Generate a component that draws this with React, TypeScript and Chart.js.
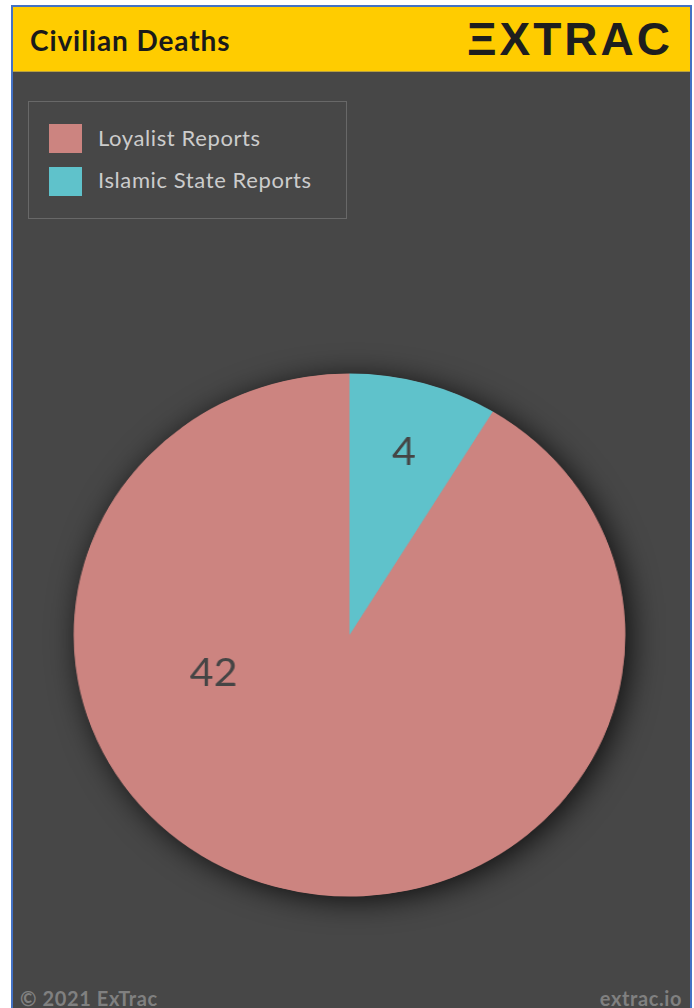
import React, { useEffect, useRef } from "react";
import { Chart, registerables } from "chart.js";

Chart.register(...registerables);

const titleText = "Civilian Deaths";
const logoText = "ΞXTRAC";
const footerLeft = "© 2021 ExTrac";
const footerRight = "extrac.io";

const categories = ["Loyalist Reports", "Islamic State Reports"];
const deaths = [42, 4];
const sliceColors = ["#cc8480", "#5fc2cb"];

// label placement within each slice (fraction of sweep, fraction of radius)
const labelPlacement = [
  { frac: 0.678, r: 0.512 },
  { frac: 0.5, r: 0.73 },
];

const FONT = "Lato, 'Open Sans', sans-serif";

const shadowPlugin = {
  id: "pieShadow",
  beforeDatasetsDraw(chart: any) {
    const meta = chart.getDatasetMeta(0);
    const arc = meta.data[0];
    if (!arc) return;
    const { x, y, outerRadius } = arc.getProps(["x", "y", "outerRadius"], true);
    const ctx = chart.ctx;
    ctx.save();
    ctx.shadowColor = "rgba(0,0,0,0.8)";
    ctx.shadowBlur = 30;
    ctx.shadowOffsetX = 5;
    ctx.shadowOffsetY = 4;
    ctx.beginPath();
    ctx.arc(x, y, outerRadius - 0.5, 0, Math.PI * 2);
    ctx.fillStyle = sliceColors[0];
    ctx.fill();
    ctx.restore();
  },
};

const valueLabelPlugin = {
  id: "valueLabels",
  afterDatasetsDraw(chart: any) {
    const meta = chart.getDatasetMeta(0);
    const ctx = chart.ctx;
    const data = chart.data.datasets[0].data as number[];
    ctx.save();
    ctx.font = `39px ${FONT}`;
    ctx.fillStyle = "#454545";
    ctx.textAlign = "center";
    ctx.textBaseline = "alphabetic";
    meta.data.forEach((arc: any, i: number) => {
      const p = arc.getProps(["x", "y", "startAngle", "endAngle", "outerRadius"], true);
      const place = labelPlacement[i];
      const a = p.startAngle + place.frac * (p.endAngle - p.startAngle);
      const rr = p.outerRadius * place.r;
      const lx = p.x + Math.cos(a) * rr;
      const ly = p.y + Math.sin(a) * rr;
      ctx.fillText(String(data[i]), lx, ly + 14);
    });
    ctx.restore();
  },
};

export default function App() {
  const canvasRef = useRef<HTMLCanvasElement | null>(null);

  useEffect(() => {
    const canvas = canvasRef.current;
    if (!canvas) return;
    const total = deaths.reduce((a, b) => a + b, 0);
    const rotation = (deaths[1] / total) * 360;
    const chart = new Chart(canvas, {
      type: "pie",
      data: {
        labels: categories,
        datasets: [
          {
            data: deaths,
            backgroundColor: sliceColors,
            borderWidth: 0,
            hoverOffset: 0,
          },
        ],
      },
      options: {
        responsive: false,
        animation: false,
        rotation,
        layout: { padding: 38.5 },
        plugins: {
          legend: { display: false },
          tooltip: { enabled: false },
        },
        events: [],
      },
      plugins: [shadowPlugin, valueLabelPlugin],
    });
    return () => chart.destroy();
  }, []);

  return (
    <div
      style={{
        position: "fixed",
        left: 0,
        top: 0,
        width: 694,
        height: 1008,
        overflow: "hidden",
        background: "#ffffff",
        fontFamily: FONT,
      }}
    >
      <div
        style={{
          position: "absolute",
          left: 11,
          top: 5,
          width: 681,
          height: 1030,
          boxSizing: "border-box",
          border: "2px solid #4472c4",
          background: "#474747",
        }}
      />
      <div
        style={{
          position: "absolute",
          left: 13,
          top: 7,
          width: 677,
          height: 65,
          background: "#ffcc00",
          borderBottom: "1px solid #b8a040",
          boxSizing: "border-box",
        }}
      />
      <div
        style={{
          position: "absolute",
          left: 30,
          top: 26,
          fontSize: 28,
          lineHeight: "28px",
          fontWeight: 700,
          letterSpacing: 0.9,
          color: "#1a1a1a",
          whiteSpace: "nowrap",
        }}
      >
        {titleText}
      </div>
      <div
        style={{
          position: "absolute",
          right: 21,
          top: 16,
          fontSize: 46,
          lineHeight: "46px",
          fontWeight: 700,
          letterSpacing: 3,
          fontFamily: "'Liberation Sans', Arial, sans-serif",
          color: "#1e1e1e",
          whiteSpace: "nowrap",
        }}
      >
        {logoText}
      </div>

      <div
        style={{
          position: "absolute",
          left: 28,
          top: 101,
          width: 319,
          height: 118,
          boxSizing: "border-box",
          border: "1px solid #686868",
        }}
      />
      {categories.map((c, i) => (
        <React.Fragment key={c}>
          <div
            style={{
              position: "absolute",
              left: 49,
              top: 124 + i * 43,
              width: 33,
              height: 29,
              background: sliceColors[i],
            }}
          />
          <div
            style={{
              position: "absolute",
              left: 98,
              top: 125 + i * 42,
              fontSize: 22,
              lineHeight: "25px",
              letterSpacing: 0.6,
              color: "#cccccc",
              whiteSpace: "nowrap",
            }}
          >
            {c}
          </div>
        </React.Fragment>
      ))}

      <canvas
        ref={canvasRef}
        width={600}
        height={600}
        style={{
          position: "absolute",
          left: 32.5,
          top: 334.5,
          width: 633,
          height: 600,
        }}
      />

      <div
        style={{
          position: "absolute",
          left: 20,
          top: 988,
          fontSize: 20,
          lineHeight: "20px",
          letterSpacing: 0.6,
          fontWeight: 700,
          color: "#808080",
          whiteSpace: "nowrap",
        }}
      >
        {footerLeft}
      </div>
      <div
        style={{
          position: "absolute",
          right: 12,
          top: 988,
          fontSize: 20,
          lineHeight: "20px",
          letterSpacing: 0.6,
          fontWeight: 700,
          color: "#808080",
          whiteSpace: "nowrap",
        }}
      >
        {footerRight}
      </div>
    </div>
  );
}
